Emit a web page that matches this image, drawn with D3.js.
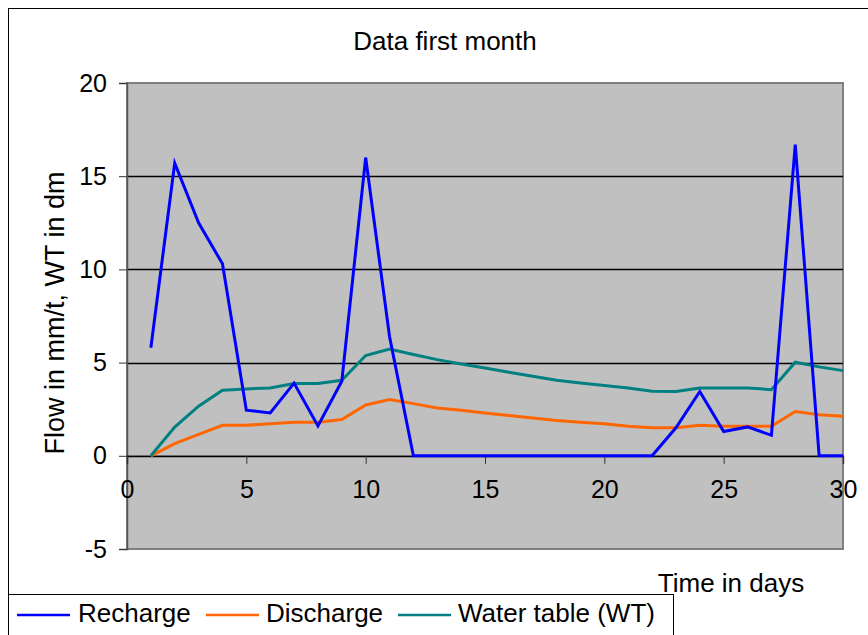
<!DOCTYPE html>
<html lang="en">
<head>
<meta charset="utf-8">
<title>Data first month</title>
<script src="https://cdn.jsdelivr.net/npm/d3@7"></script>
<style>
  body { margin: 0; background: #fff; }
  svg { display: block; font-family: "Liberation Sans", Arial, sans-serif; }
</style>
</head>
<body>
<div id="chart"></div>
<script>
// days 1..30
const days = d3.range(1, 31);
const recharge = [5.8, 15.7, 12.5, 10.3, 2.45, 2.3, 3.9, 1.6, 4.0, 16.0,
  6.4, 0, 0, 0, 0, 0, 0, 0, 0, 0,
  0, 0, 1.5, 3.45, 1.3, 1.55, 1.1, 16.7, 0, 0];
const discharge = [0, 0.65, 1.15, 1.64, 1.64, 1.72, 1.8, 1.8, 1.95, 2.73,
  3.02, 2.8, 2.57, 2.44, 2.3, 2.16, 2.03, 1.89, 1.8, 1.72,
  1.59, 1.5, 1.5, 1.64, 1.58, 1.58, 1.58, 2.38, 2.2, 2.12];
const waterTable = [0, 1.54, 2.66, 3.52, 3.59, 3.64, 3.88, 3.88, 4.05, 5.38,
  5.73, 5.43, 5.16, 4.93, 4.71, 4.48, 4.27, 4.05, 3.91, 3.77,
  3.64, 3.46, 3.45, 3.64, 3.64, 3.64, 3.55, 5.02, 4.77, 4.57];
const seriesNames = ["Recharge", "Discharge", "Water table (WT)"];
const seriesColors = ["#0000ff", "#ff6600", "#008080"];
const xTicks = [0, 5, 10, 15, 20, 25, 30];
const yTicks = [-5, 0, 5, 10, 15, 20];

const W = 868, H = 635;
const plot = {left: 127, top: 83, right: 843, bottom: 549};

const svg = d3.select("#chart").append("svg")
  .attr("width", W).attr("height", H);

// outer chart frame (runs off the right and bottom)
svg.append("rect")
  .attr("x", 8.5).attr("y", 8.5)
  .attr("width", 900).attr("height", 700)
  .attr("fill", "none").attr("stroke", "#000").attr("stroke-width", 1);

const x = d3.scaleLinear().domain([0, 30]).range([plot.left, plot.right]);
const y = d3.scaleLinear().domain([-5, 20]).range([plot.bottom, plot.top]);

// plot background
svg.append("rect")
  .attr("x", plot.left).attr("y", plot.top)
  .attr("width", plot.right - plot.left).attr("height", plot.bottom - plot.top)
  .attr("fill", "#c0c0c0").attr("stroke", "#808080").attr("stroke-width", 2);

// horizontal gridlines
svg.append("g")
  .selectAll("line")
  .data(yTicks.filter(v => v > -5 && v < 20))
  .join("line")
  .attr("x1", plot.left).attr("x2", plot.right)
  .attr("y1", d => Math.round(y(d)) + 0.5).attr("y2", d => Math.round(y(d)) + 0.5)
  .attr("stroke", "#000").attr("stroke-width", 1.3);

// y axis
const yAxis = svg.append("g")
  .attr("transform", `translate(${plot.left},0)`)
  .call(d3.axisLeft(y).tickValues(yTicks).tickSize(8).tickPadding(12).tickFormat(d => String(d)));
yAxis.select(".domain").attr("stroke", "#555").attr("stroke-width", 1.5);
yAxis.selectAll(".tick line").attr("stroke", "#333");
yAxis.selectAll("text").attr("font-size", 25).attr("fill", "#000")
  .attr("font-family", "'Liberation Sans', Arial, sans-serif");

// x axis, crossing at y = 0
const xAxis = svg.append("g")
  .attr("transform", `translate(0,${y(0)})`)
  .call(d3.axisBottom(x).tickValues(xTicks).tickSize(8).tickPadding(16).tickFormat(d => String(d)));
xAxis.select(".domain").attr("stroke", "#000").attr("stroke-width", 1.3);
xAxis.selectAll(".tick line").attr("stroke", "#333");
xAxis.selectAll("text").attr("font-size", 25).attr("fill", "#000")
  .attr("font-family", "'Liberation Sans', Arial, sans-serif");

// data lines, recharge drawn last so it sits on top
const line = d3.line().x((d, i) => x(days[i])).y(d => y(d));
const drawOrder = [1, 2, 0];
const allSeries = [recharge, discharge, waterTable];
drawOrder.forEach(i => {
  svg.append("path")
    .datum(allSeries[i])
    .attr("d", line)
    .attr("fill", "none")
    .attr("stroke", seriesColors[i])
    .attr("stroke-width", 3)
    .attr("stroke-linejoin", "miter");
});

// title
svg.append("text")
  .attr("x", 445).attr("y", 50)
  .attr("text-anchor", "middle")
  .attr("font-size", 26)
  .text("Data first month");

// y title
svg.append("text")
  .attr("transform", "translate(64,313) rotate(-90)")
  .attr("text-anchor", "middle")
  .attr("font-size", 27)
  .text("Flow in mm/t, WT in dm");

// x title
svg.append("text")
  .attr("x", 731).attr("y", 592)
  .attr("text-anchor", "middle")
  .attr("font-size", 26)
  .text("Time in days");

// legend
const legend = svg.append("g");
legend.append("rect")
  .attr("x", 8.5).attr("y", 594.5)
  .attr("width", 665).attr("height", 60)
  .attr("fill", "#fff").attr("stroke", "#000").attr("stroke-width", 1);
const legendLineX = [17, 206, 398];
const legendTextX = [78, 266, 458];
seriesNames.forEach((name, i) => {
  legend.append("line")
    .attr("x1", legendLineX[i]).attr("x2", legendLineX[i] + 53)
    .attr("y1", 615).attr("y2", 615)
    .attr("stroke", seriesColors[i]).attr("stroke-width", 2.5);
  legend.append("text")
    .attr("x", legendTextX[i]).attr("y", 622)
    .attr("font-size", 26).text(name);
});
</script>
</body>
</html>
